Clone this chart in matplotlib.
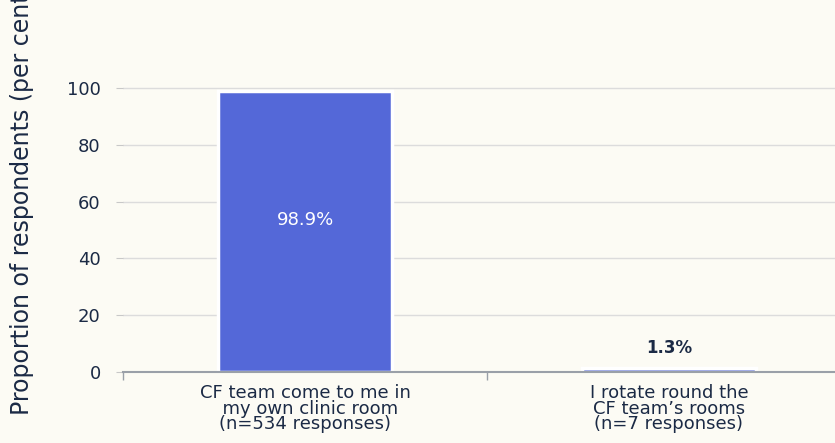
import matplotlib.pyplot as plt

categories = ["CF team come to me in\n  my own clinic room\n(n=534 responses)",
              "I rotate round the\nCF team\u2019s rooms\n(n=7 responses)"]
values = [98.9, 1.3]
labels = ["98.9%", "1.3%"]

bg = "#fcfbf4"
bar_color = "#5468d8"
text_color = "#1b2a45"
plt.rcParams['font.family'] = ['DejaVu Sans']

fig = plt.figure(figsize=(8.35, 4.43), dpi=100, facecolor=bg)
ax = fig.add_axes([123 / 835, 71 / 443, 728 / 835, 340.8 / 443], facecolor=bg)

x = range(len(categories))
bars = ax.bar(x, values, width=0.48, color=bar_color, edgecolor="white", linewidth=2.5, zorder=3)

# value labels: inside the tall bar, above the short one
for b, v, lab in zip(bars, values, labels):
    cx = b.get_x() + b.get_width() / 2
    if v > 20:
        ax.text(cx, v / 2 + 4, lab, ha="center", va="center", color="white", fontsize=13, zorder=4)
    else:
        ax.text(cx, v + 7, lab, ha="center", va="center", color=text_color, fontsize=12,
                fontweight="bold", zorder=4)

ax.set_xlim(-0.5, 1.5)
ax.set_ylim(0, 120)
ax.set_yticks([0, 20, 40, 60, 80, 100])
ax.set_xticks(list(x))
ax.set_xticklabels(categories, fontsize=13, color=text_color, linespacing=0.82)
ax.set_xticks([-0.5, 0.5, 1.5], minor=True)
ax.tick_params(axis="x", which="major", length=0, pad=9)
ax.tick_params(axis="x", which="minor", length=6, color="#9aa0a8", width=1)
ax.tick_params(axis="y", length=5, color="#c8c8c8", labelsize=13, labelcolor=text_color, pad=11)

ax.grid(axis="y", color="#dcdcdc", linewidth=1, zorder=0)
for side in ["top", "right", "left"]:
    ax.spines[side].set_visible(False)
ax.spines["bottom"].set_color("#9aa0a8")
ax.spines["bottom"].set_linewidth(1.5)
ax.spines["bottom"].set_zorder(5)

fig.text(22 / 835, 28 / 443, "Proportion of respondents (per cent)", rotation=90,
         ha="center", va="bottom", fontsize=17, color=text_color)

fig.savefig("out.png", dpi=100, facecolor=bg)
